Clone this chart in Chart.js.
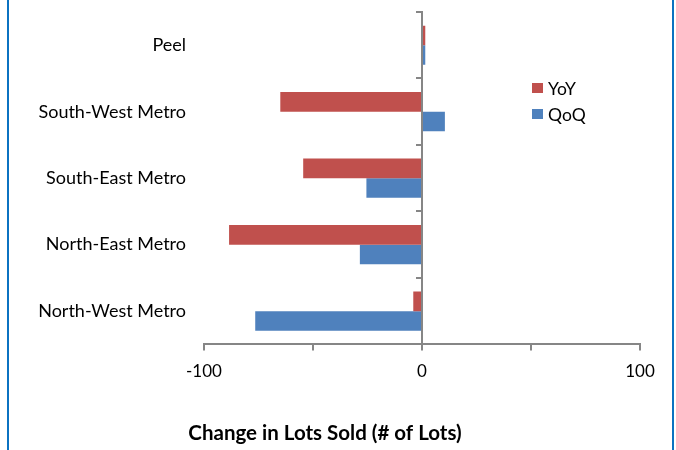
<!DOCTYPE html>
<html>
<head>
<meta charset="utf-8">
<script src="https://cdn.jsdelivr.net/npm/chart.js@4"></script>
<style>
  html, body { margin: 0; padding: 0; background: #fff; }
  #wrap { position: relative; width: 676px; height: 450px; overflow: hidden; }
  #wrap canvas { position: absolute; left: 0; top: 0; }
  #frame {
    position: absolute; left: 7px; top: -4px; width: 667px; height: 460px;
    border-left: 2px solid #0B72C1; border-right: 2px solid #0B72C1;
    box-sizing: border-box; pointer-events: none;
  }
</style>
</head>
<body>
<div id="wrap">
  <canvas id="chart" width="676" height="450"></canvas>
  <div id="frame"></div>
</div>
<script>
// Change in lots sold by region
const regions = ['Peel', 'South-West Metro', 'South-East Metro', 'North-East Metro', 'North-West Metro'];
const yoyChange = [1.5, -65, -54.5, -88.5, -4];
const qoqChange = [1.5, 10.5, -25.5, -28.5, -76.5];
const seriesNames = ['YoY', 'QoQ'];
const seriesColors = ['#C0504D', '#4F81BD'];
const labelledTicks = [-100, 0, 100];
const axisTitle = 'Change in Lots Sold (# of Lots)';

const FONT = 'Lato';
const AXIS_GREY = '#868686';

// Legend drawn beside the bars, inside the plot region
const sideLegend = {
  id: 'sideLegend',
  afterDraw(chart) {
    const ctx = chart.ctx;
    ctx.save();
    ctx.font = '17.5px ' + FONT;
    ctx.textBaseline = 'middle';
    ctx.textAlign = 'left';
    chart.data.datasets.forEach((ds, i) => {
      const cy = 88 + i * 26;
      ctx.fillStyle = ds.backgroundColor;
      ctx.fillRect(532, cy - 5, 11, 10);
      ctx.fillStyle = '#000';
      ctx.fillText(ds.label, 548, cy + 1);
    });
    ctx.restore();
  }
};

new Chart(document.getElementById('chart'), {
  type: 'bar',
  data: {
    labels: regions,
    datasets: [
      { label: seriesNames[0], data: yoyChange, backgroundColor: seriesColors[0], yAxisID: 'y' },
      { label: seriesNames[1], data: qoqChange, backgroundColor: seriesColors[1], yAxisID: 'y' }
    ]
  },
  options: {
    indexAxis: 'y',
    responsive: false,
    animation: false,
    events: [],
    datasets: { bar: { categoryPercentage: 0.59, barPercentage: 1, borderWidth: 0 } },
    layout: { padding: { top: 12, right: 36, left: 10, bottom: 0 } },
    plugins: {
      legend: { display: false },
      tooltip: { enabled: false },
      title: {
        display: true,
        position: 'bottom',
        text: axisTitle,
        color: '#000',
        font: { family: FONT, size: 20.5, weight: 'bold' },
        padding: { top: 28.6, bottom: 4 }
      }
    },
    scales: {
      x: {
        type: 'linear',
        min: -100,
        max: 100,
        ticks: {
          stepSize: 50,
          autoSkip: false,
          maxRotation: 0,
          color: '#000',
          padding: 11,
          font: { family: FONT, size: 17 },
          callback: (v) => labelledTicks.includes(v) ? String(v) : ''
        },
        grid: { drawOnChartArea: false, tickLength: 6, color: AXIS_GREY, lineWidth: 2 },
        border: { color: AXIS_GREY, width: 2 }
      },
      y: {
        type: 'category',
        position: 'left',
        grid: { display: false, drawTicks: false },
        border: { display: false },
        ticks: { color: '#000', padding: 18, font: { family: FONT, size: 18 } },
        afterFit: (scale) => {
          scale.width = 194;
          scale.paddingTop = 0;
          scale.paddingBottom = 0;
        }
      },
      // vertical axis line crossing at zero, with category tick marks
      yZero: {
        type: 'category',
        labels: regions,
        position: { x: 0 },
        offset: true,
        grid: { drawOnChartArea: false, offset: true, tickLength: 5, color: AXIS_GREY, lineWidth: 2 },
        border: { color: AXIS_GREY, width: 2 },
        ticks: { display: false }
      }
    }
  },
  plugins: [sideLegend]
});
</script>
</body>
</html>
